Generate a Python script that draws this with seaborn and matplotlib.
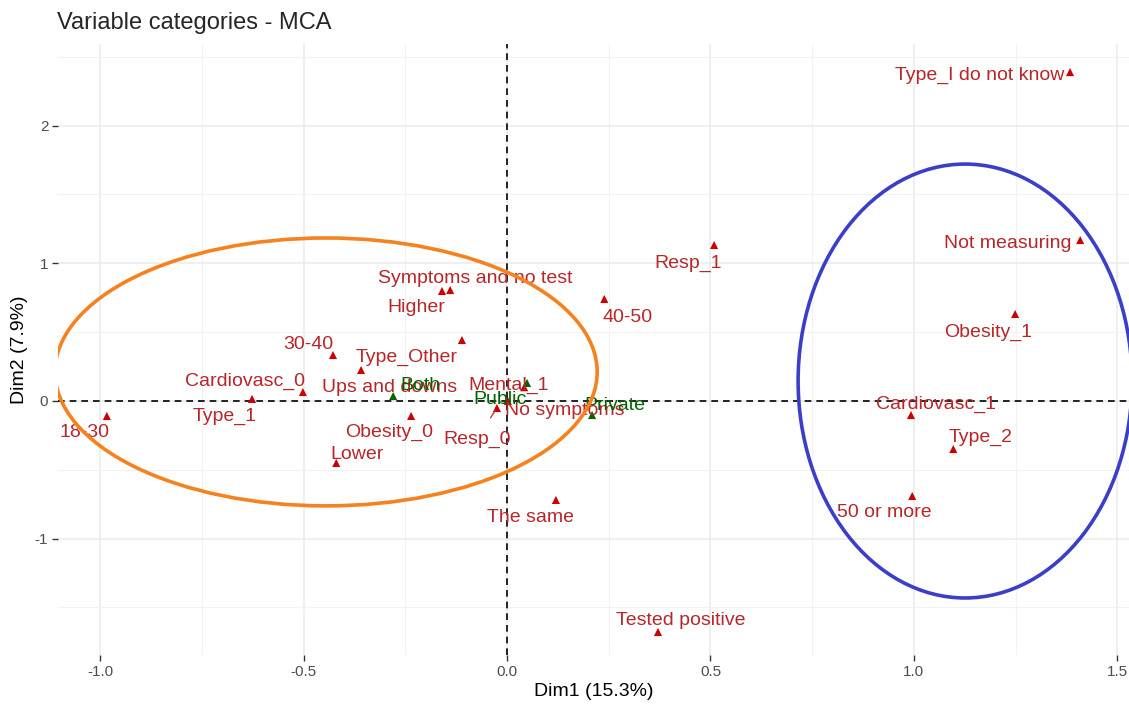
import matplotlib
matplotlib.use("Agg")
import matplotlib.pyplot as plt
from matplotlib.patches import Ellipse
from matplotlib.ticker import MultipleLocator, FormatStrFormatter
import seaborn as sns
import pandas as pd

# ---- data ----
categories = ["Type_I do not know", "Not measuring", "Resp_1", "Higher",
              "Symptoms and no test", "40-50", "Obesity_1", "Type_Other",
              "30-40", "Ups and downs", "Cardiovasc_0", "Type_1", "18-30",
              "Obesity_0", "Resp_0", "No symptoms", "Lower", "Cardiovasc_1",
              "Type_2", "50 or more", "The same", "Tested positive", "Mental_1"]
dim1 = [1.384, 1.409, 0.509, -0.160, -0.140, 0.239, 1.249, -0.111,
        -0.428, -0.359, -0.502, -0.627, -0.984, -0.236, -0.025, 0.002,
        -0.420, 0.993, 1.097, 0.996, 0.120, 0.371, 0.042]
dim2 = [2.389, 1.169, 1.133, 0.799, 0.806, 0.741, 0.632, 0.443,
        0.334, 0.225, 0.065, 0.015, -0.109, -0.109, -0.051, 0.000,
        -0.450, -0.102, -0.349, -0.690, -0.719, -1.678, 0.100]

sup_categories = ["Both", "Public", "Private"]
sup_dim1 = [-0.280, 0.049, 0.209]
sup_dim2 = [0.036, 0.131, -0.102]

# label offsets in pixels (dx right, dy up)
label_off = {
    "Type_I do not know": (-90, -3), "Not measuring": (-72, -3),
    "Resp_1": (-26, -18), "Higher": (-26, -17),
    "Symptoms and no test": (25, 12), "40-50": (23, -19),
    "Obesity_1": (-27, -18), "Type_Other": (-55, -17),
    "30-40": (-25, 11), "Ups and downs": (29, -17),
    "Cardiovasc_0": (-58, 11), "Type_1": (-27, -17),
    "18-30": (-22, -17), "Obesity_0": (-22, -16),
    "Resp_0": (-20, -31), "No symptoms": (57, -10),
    "Lower": (21, 8), "Cardiovasc_1": (25, 11),
    "Type_2": (27, 12), "50 or more": (-28, -17),
    "The same": (-25, -18), "Tested positive": (23, 11),
    "Mental_1": (-16, 2),
    "Both": (27, 11), "Public": (-27, -17), "Private": (23, 10),
}

df = pd.DataFrame({"label": categories + sup_categories,
                   "Dim1": dim1 + sup_dim1,
                   "Dim2": dim2 + sup_dim2,
                   "kind": ["active"] * len(categories) + ["sup"] * len(sup_categories)})

RED = "#CC0000"
RED_TXT = "#B8262A"
GREEN = "#006400"
palette = {"active": RED, "sup": GREEN}
txtcol = {"active": RED_TXT, "sup": GREEN}

sns.set_theme(style="white")
plt.rcParams["font.family"] = ["Liberation Sans", "DejaVu Sans"]
plt.rcParams["axes.unicode_minus"] = False

fig = plt.figure(figsize=(11.29, 7.10), dpi=100)
ax = fig.add_axes([0.0514, 0.0775, 0.9486, 0.8605])

ax.set_xlim(-1.104, 1.529)
ax.set_ylim(-1.845, 2.593)
ax.xaxis.set_major_locator(MultipleLocator(0.5))
ax.xaxis.set_minor_locator(MultipleLocator(0.25))
ax.yaxis.set_major_locator(MultipleLocator(1))
ax.yaxis.set_minor_locator(MultipleLocator(0.5))
ax.grid(which="major", color="#EBEBEB", linewidth=1.1)
ax.grid(which="minor", color="#F2F2F2", linewidth=0.8)
ax.set_axisbelow(True)
for s in ax.spines.values():
    s.set_visible(False)

ax.axhline(0, color="black", linestyle=(0, (4, 3)), linewidth=1.2, zorder=1)
ax.axvline(0, color="black", linestyle=(0, (4, 3)), linewidth=1.2, zorder=1)

sns.scatterplot(data=df, x="Dim1", y="Dim2", hue="kind", palette=palette,
                marker="^", s=34, edgecolor="none", legend=False, ax=ax, zorder=3)

for _, r in df.iterrows():
    dx, dy = label_off[r["label"]]
    kw = {}
    if r["label"] == "Resp_0":
        kw["arrowprops"] = dict(arrowstyle="-", color=RED_TXT, lw=0.9,
                                shrinkA=8, shrinkB=2)
    ax.annotate(r["label"], (r["Dim1"], r["Dim2"]), xytext=(dx, dy),
                textcoords="offset pixels", ha="center", va="center",
                fontsize=14, color=txtcol[r["kind"]], zorder=4, **kw)

# highlighted groups
ax.add_patch(Ellipse((-0.445, 0.211), 1.333, 1.946, fill=False,
                     edgecolor="#F5821F", linewidth=2.6, zorder=5))
ax.add_patch(Ellipse((1.126, 0.145), 0.821, 3.152, fill=False,
                     edgecolor="#3A3FC8", linewidth=2.6, zorder=5))

ax.tick_params(axis="both", which="major", length=4, width=1, color="#333333",
               labelsize=11, labelcolor="#4D4D4D", pad=3, bottom=True, left=True)
ax.tick_params(axis="both", which="minor", length=0)
ax.xaxis.set_major_formatter(FormatStrFormatter("%.1f"))
ax.set_xlabel("Dim1 (15.3%)", fontsize=14, color="black", labelpad=3)
ax.set_ylabel("Dim2 (7.9%)", fontsize=14, color="black", labelpad=5)
fig.text(0.0505, 0.967, "Variable categories - MCA", fontsize=17, ha="left", va="center")

fig.savefig("out.png", dpi=100)
